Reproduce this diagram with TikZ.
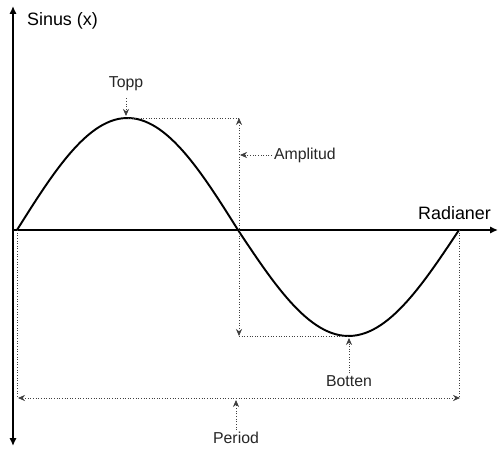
\documentclass[tikz,border=0pt]{standalone}
\usepackage{fontspec}
\setmainfont{Liberation Sans}
\usetikzlibrary{arrows.meta}
\begin{document}
\begin{tikzpicture}[x=0.02cm,y=-0.02cm,
  axis/.style={line width=1.4pt,black,>={Latex[length=4.5pt,width=4.2pt]}},
  curve/.style={line width=1.1pt,black},
  dim/.style={densely dotted,line width=0.5pt,black!75,>={Stealth[length=4pt,width=3.5pt]}},
  lbl/.style={inner sep=1pt,font=\fontsize{9}{11}\selectfont,text=black!85},
  big/.style={inner sep=1pt,font=\fontsize{10.2}{12}\selectfont}]
\useasboundingbox (0,0) rectangle (500,449);
% axes
\coordinate (ytop) at (13,6);
\coordinate (ybot) at (13,446);
\coordinate (O) at (13,230);
\coordinate (xend) at (498,230);
\draw[axis,<->] (ybot) -- (ytop);
\draw[axis,->] (O) -- (xend);
\node[big,anchor=west] (sin) at (25,21) {Sinus (x)};
\node[big,anchor=east] (rad) at (493,213) {Radianer};
% key points
\coordinate (S) at (17,230);
\coordinate (P) at (127.5,118);
\coordinate (Z) at (238,230);
\coordinate (T) at (348.5,336);
\coordinate (E) at (459,230);
% curve
\draw[curve] plot[domain=0:180,samples=60] ({17+\x/180*221},{230-112*sin(\x)})
  -- plot[domain=180:360,samples=60] ({17+\x/180*221},{230-106*sin(\x)});
% amplitude
\coordinate (A1) at (239,118);
\coordinate (A2) at (239,336);
\draw[dim] (P) -- (A1);
\draw[dim] (A2) -- (T);
\draw[dim,<->] (A1) -- (A2);
\node[lbl,anchor=west] (amp) at (272,155) {Amplitud};
\coordinate (ampt) at (240,155);
\draw[dim,->] (amp.west) -- (ampt);
% top / bottom
\node[lbl] (topp) at (126,84) {Topp};
\draw[dim,->] ([yshift=-3pt]topp.south) -- (126,116);
\node[lbl] (bot) at (349,381) {Botten};
\draw[dim,->] (bot.north) -- (349,338);
% period
\coordinate (PL) at (18,398);
\coordinate (PR) at (460,398);
\draw[dim] (S) -- (S |- PL);
\draw[dim] (E) -- (E |- PR);
\draw[dim,<->] (PL) -- (PR);
\node[lbl] (per) at (236,438) {Period};
\draw[dim,->] (per.north) -- (236,400);
\end{tikzpicture}
\end{document}
